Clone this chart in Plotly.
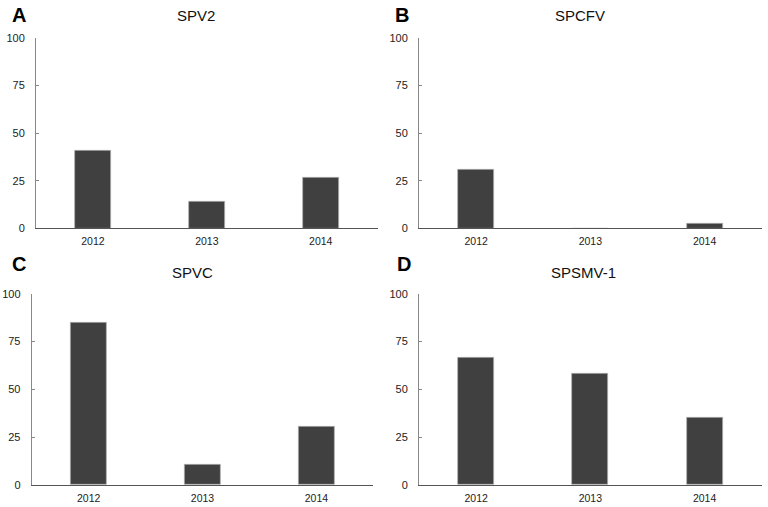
import plotly.graph_objects as go

years = ["2012", "2013", "2014"]
spv2 = [40.9, 14.0, 26.5]
spcfv = [30.6, 0, 2.6]
spvc = [85.0, 10.5, 30.5]
spsmv1 = [66.8, 58.2, 35.4]
titles = ["SPV2", "SPCFV", "SPVC", "SPSMV-1"]
letters = ["A", "B", "C", "D"]
y_ticks = [0, 25, 50, 75, 100]

W, H = 768, 507
# panel pixel boxes: (x0, x1, ytop(100), ybottom(0))
boxes = [
    (36, 377.7, 37.7, 228.3),
    (419, 761.7, 37.7, 228.3),
    (31.7, 373.3, 293.7, 485),
    (419, 761.7, 293.7, 485),
]
title_pos = [(196, 15), (580, 15), (192, 272), (583, 272)]
letter_pos = [(19, 15), (402, 15), (19, 264), (404, 264)]

fig = go.Figure()
series = [spv2, spcfv, spvc, spsmv1]
for i, (vals, box) in enumerate(zip(series, boxes)):
    n = "" if i == 0 else str(i + 1)
    fig.add_trace(go.Bar(
        x=years, y=vals, xaxis="x" + n, yaxis="y" + n,
        marker=dict(color="#404040", line=dict(color="#b0b0b0", width=0.7)),
        width=0.315, showlegend=False, hoverinfo="skip",
    ))
    x0, x1, yt, yb = box
    fig.layout["xaxis" + n] = dict(
        domain=[x0 / W, x1 / W], anchor="y" + n, range=[-0.5, 2.5],
        showline=True, linecolor="#555555", linewidth=1, ticks="",
        showgrid=False, zeroline=False, fixedrange=True, automargin=False,
        ticklabelstandoff=3,
        tickfont=dict(family="Liberation Sans, Arial", size=10.5, color="#222222"),
    )
    fig.layout["yaxis" + n] = dict(
        domain=[1 - yb / H, 1 - yt / H], anchor="x" + n, range=[0, 100],
        tickvals=y_ticks, showline=True, linecolor="#888888", linewidth=1,
        ticks="inside", ticklen=3, tickcolor="#888888", automargin=False,
        showgrid=False, zeroline=False, ticklabelstandoff=8, fixedrange=True,
        tickfont=dict(family="Liberation Sans, Arial", size=11, color="#222222"),
    )
    tx, ty = title_pos[i]
    fig.add_annotation(x=tx / W, y=1 - ty / H, xref="paper", yref="paper",
                       text=titles[i], showarrow=False, xanchor="center", yanchor="middle",
                       font=dict(family="Liberation Sans, Arial", size=15, color="#111111"))
    lx, ly = letter_pos[i]
    fig.add_annotation(x=lx / W, y=1 - ly / H, xref="paper", yref="paper",
                       text="<b>" + letters[i] + "</b>", showarrow=False,
                       xanchor="center", yanchor="middle",
                       font=dict(family="Liberation Sans, Arial", size=20, color="#000000"))

fig.update_layout(
    width=W, height=H, margin=dict(l=0, r=0, t=0, b=0),
    plot_bgcolor="white", paper_bgcolor="white", bargap=0,
)
fig.write_html("out.html", config={"displayModeBar": False},
               post_script="document.body.style.margin='0';document.body.style.overflow='hidden';")
